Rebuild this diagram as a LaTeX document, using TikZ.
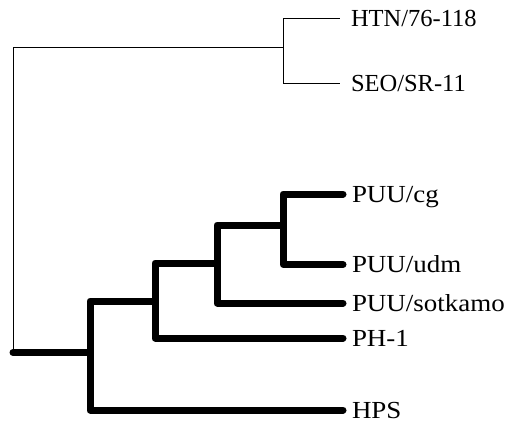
\documentclass[tikz,border=0pt]{standalone}
\usepackage{fontspec}
\setmainfont{Liberation Serif}
\newfontfamily\leaffont{Liberation Serif}[FakeStretch=1.1]
\begin{document}
\begin{tikzpicture}[
    x=1bp, y=-1bp,
    thinbranch/.style={line width=0.8bp, black},
    thickbranch/.style={line width=7bp, black, line cap=round, line join=round},
    leaf/.style={
        anchor=west,
        inner xsep=9bp,
        inner ysep=0pt,
        outer sep=0pt,
        text height=16.2bp,
        text depth=0pt,
        font=\leaffont\fontsize{24.5bp}{24.5bp}\selectfont
    },
    outleaf/.style={leaf, inner xsep=11bp, font=\rmfamily\fontsize{24.5bp}{24.5bp}\selectfont}
]
\useasboundingbox (0,0) rectangle (508,424);

% Internal nodes of the tree
\coordinate (root) at (13,352.5);
\coordinate (nOut) at (283,47);
\coordinate (nA) at (90,352.5);
\coordinate (nB) at (155,301);
\coordinate (nC) at (217,263);
\coordinate (nD) at (283,225);

% Leaf labels
\node[outleaf] (htn) at (340,18.5) {HTN/76-118};
\node[outleaf] (seo) at (340,83.5) {SEO/SR-11};
\node[leaf] (cg) at (343,194) {PUU/cg};
\node[leaf] (udm) at (343,264.5) {PUU/udm};
\node[leaf] (sot) at (343,303) {PUU/sotkamo};
\node[leaf] (ph) at (343,338) {PH-1};
\node[leaf] (hps) at (343,410) {HPS};

% Thin branches (outgroup)
\draw[thinbranch] (root) |- (nOut);
\draw[thinbranch] (nOut) |- (htn.west);
\draw[thinbranch] (nOut) |- (seo.west);

% Thick branches
\draw[thickbranch] (root) -- (nA);
\draw[thickbranch] (nA) |- (nB);
\draw[thickbranch] (nA) |- (hps.west);
\draw[thickbranch] (nB) |- (nC);
\draw[thickbranch] (nB) |- (ph.west);
\draw[thickbranch] (nC) |- (nD);
\draw[thickbranch] (nC) |- (sot.west);
\draw[thickbranch] (nD) |- (cg.west);
\draw[thickbranch] (nD) |- (udm.west);

\end{tikzpicture}
\end{document}
